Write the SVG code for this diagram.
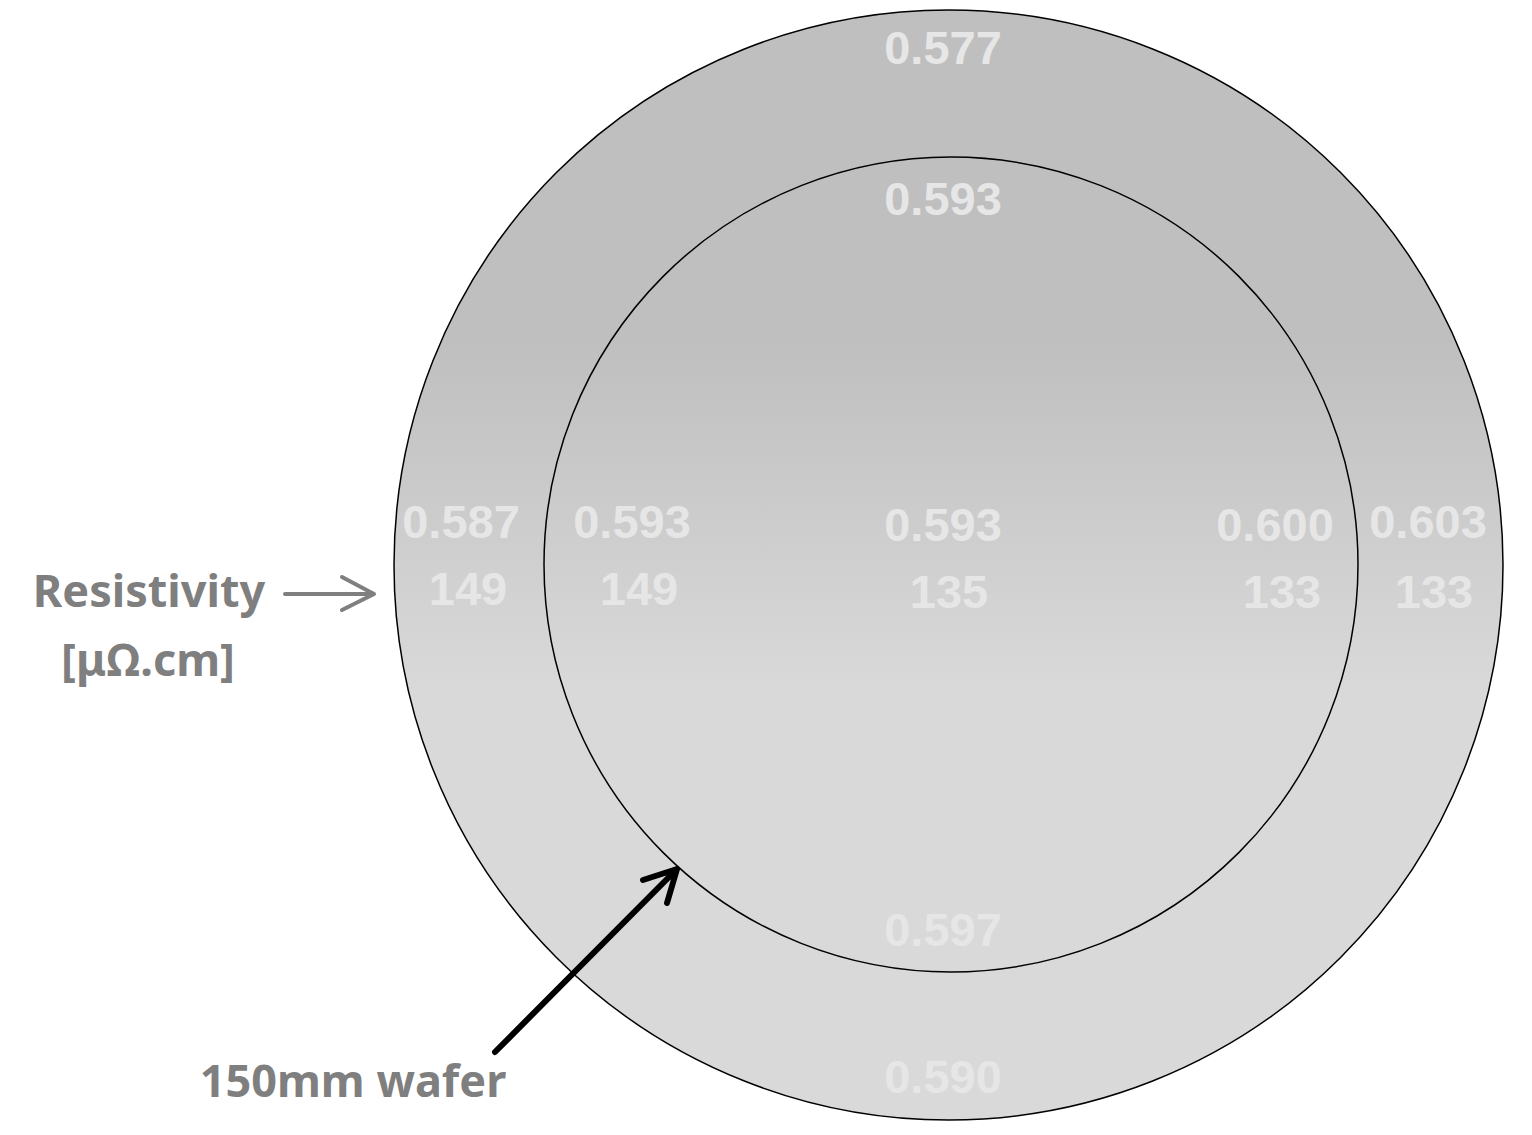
<svg xmlns="http://www.w3.org/2000/svg" width="1532" height="1135" viewBox="0 0 1532 1135">
<style>
.v{font-family:"Liberation Sans",Arial,sans-serif;font-weight:bold;font-size:47px;fill:#e6e6e6;text-anchor:middle}
.lbl{font-family:"Noto Sans","Noto Sans CJK SC",sans-serif;font-weight:bold;font-size:45px;fill:#7f7f7f;text-anchor:middle}
.ring{fill:url(#g);stroke:#000;stroke-width:1.5}
</style>
<defs>
<linearGradient id="g" gradientUnits="userSpaceOnUse" x1="0" y1="340" x2="0" y2="690">
<stop offset="0" stop-color="#bfbfbf"/>
<stop offset="1" stop-color="#d9d9d9"/>
</linearGradient>
</defs>
<g id="wafer">
<ellipse class="ring" cx="948.5" cy="565" rx="554.5" ry="555"/>
</g>
<g id="inner">
<ellipse class="ring" cx="951" cy="564.5" rx="407" ry="407.5"/>
</g>
<g id="values">
<text class="v" x="943" y="64">0.577</text>
<text class="v" x="943" y="215">0.593</text>
<text class="v" x="461" y="538">0.587</text>
<text class="v" x="468" y="605">149</text>
<text class="v" x="632" y="538">0.593</text>
<text class="v" x="639" y="605">149</text>
<text class="v" x="943" y="541">0.593</text>
<text class="v" x="949" y="608">135</text>
<text class="v" x="1275" y="541">0.600</text>
<text class="v" x="1282" y="608">133</text>
<text class="v" x="1428" y="538">0.603</text>
<text class="v" x="1434" y="608">133</text>
<text class="v" x="943" y="946">0.597</text>
<text class="v" x="943" y="1093">0.590</text>
</g>
<g id="label-resistivity">
<text class="lbl" x="149" y="607">Resistivity</text>
<text class="lbl" x="148" y="676">[μΩ.cm]</text>
</g>
<g id="label-wafer">
<text class="lbl" x="353" y="1097">150mm wafer</text>
</g>
<g id="connectors" fill="none" stroke-linecap="round" stroke-linejoin="round">
<path d="M285 594 H374 M342 577 L374 594 L342 610" stroke="#7f7f7f" stroke-width="4"/>
<path d="M495 1052 L677 869 M643 880 L677 869 L667 903" stroke="#000" stroke-width="6"/>
</g>
</svg>
